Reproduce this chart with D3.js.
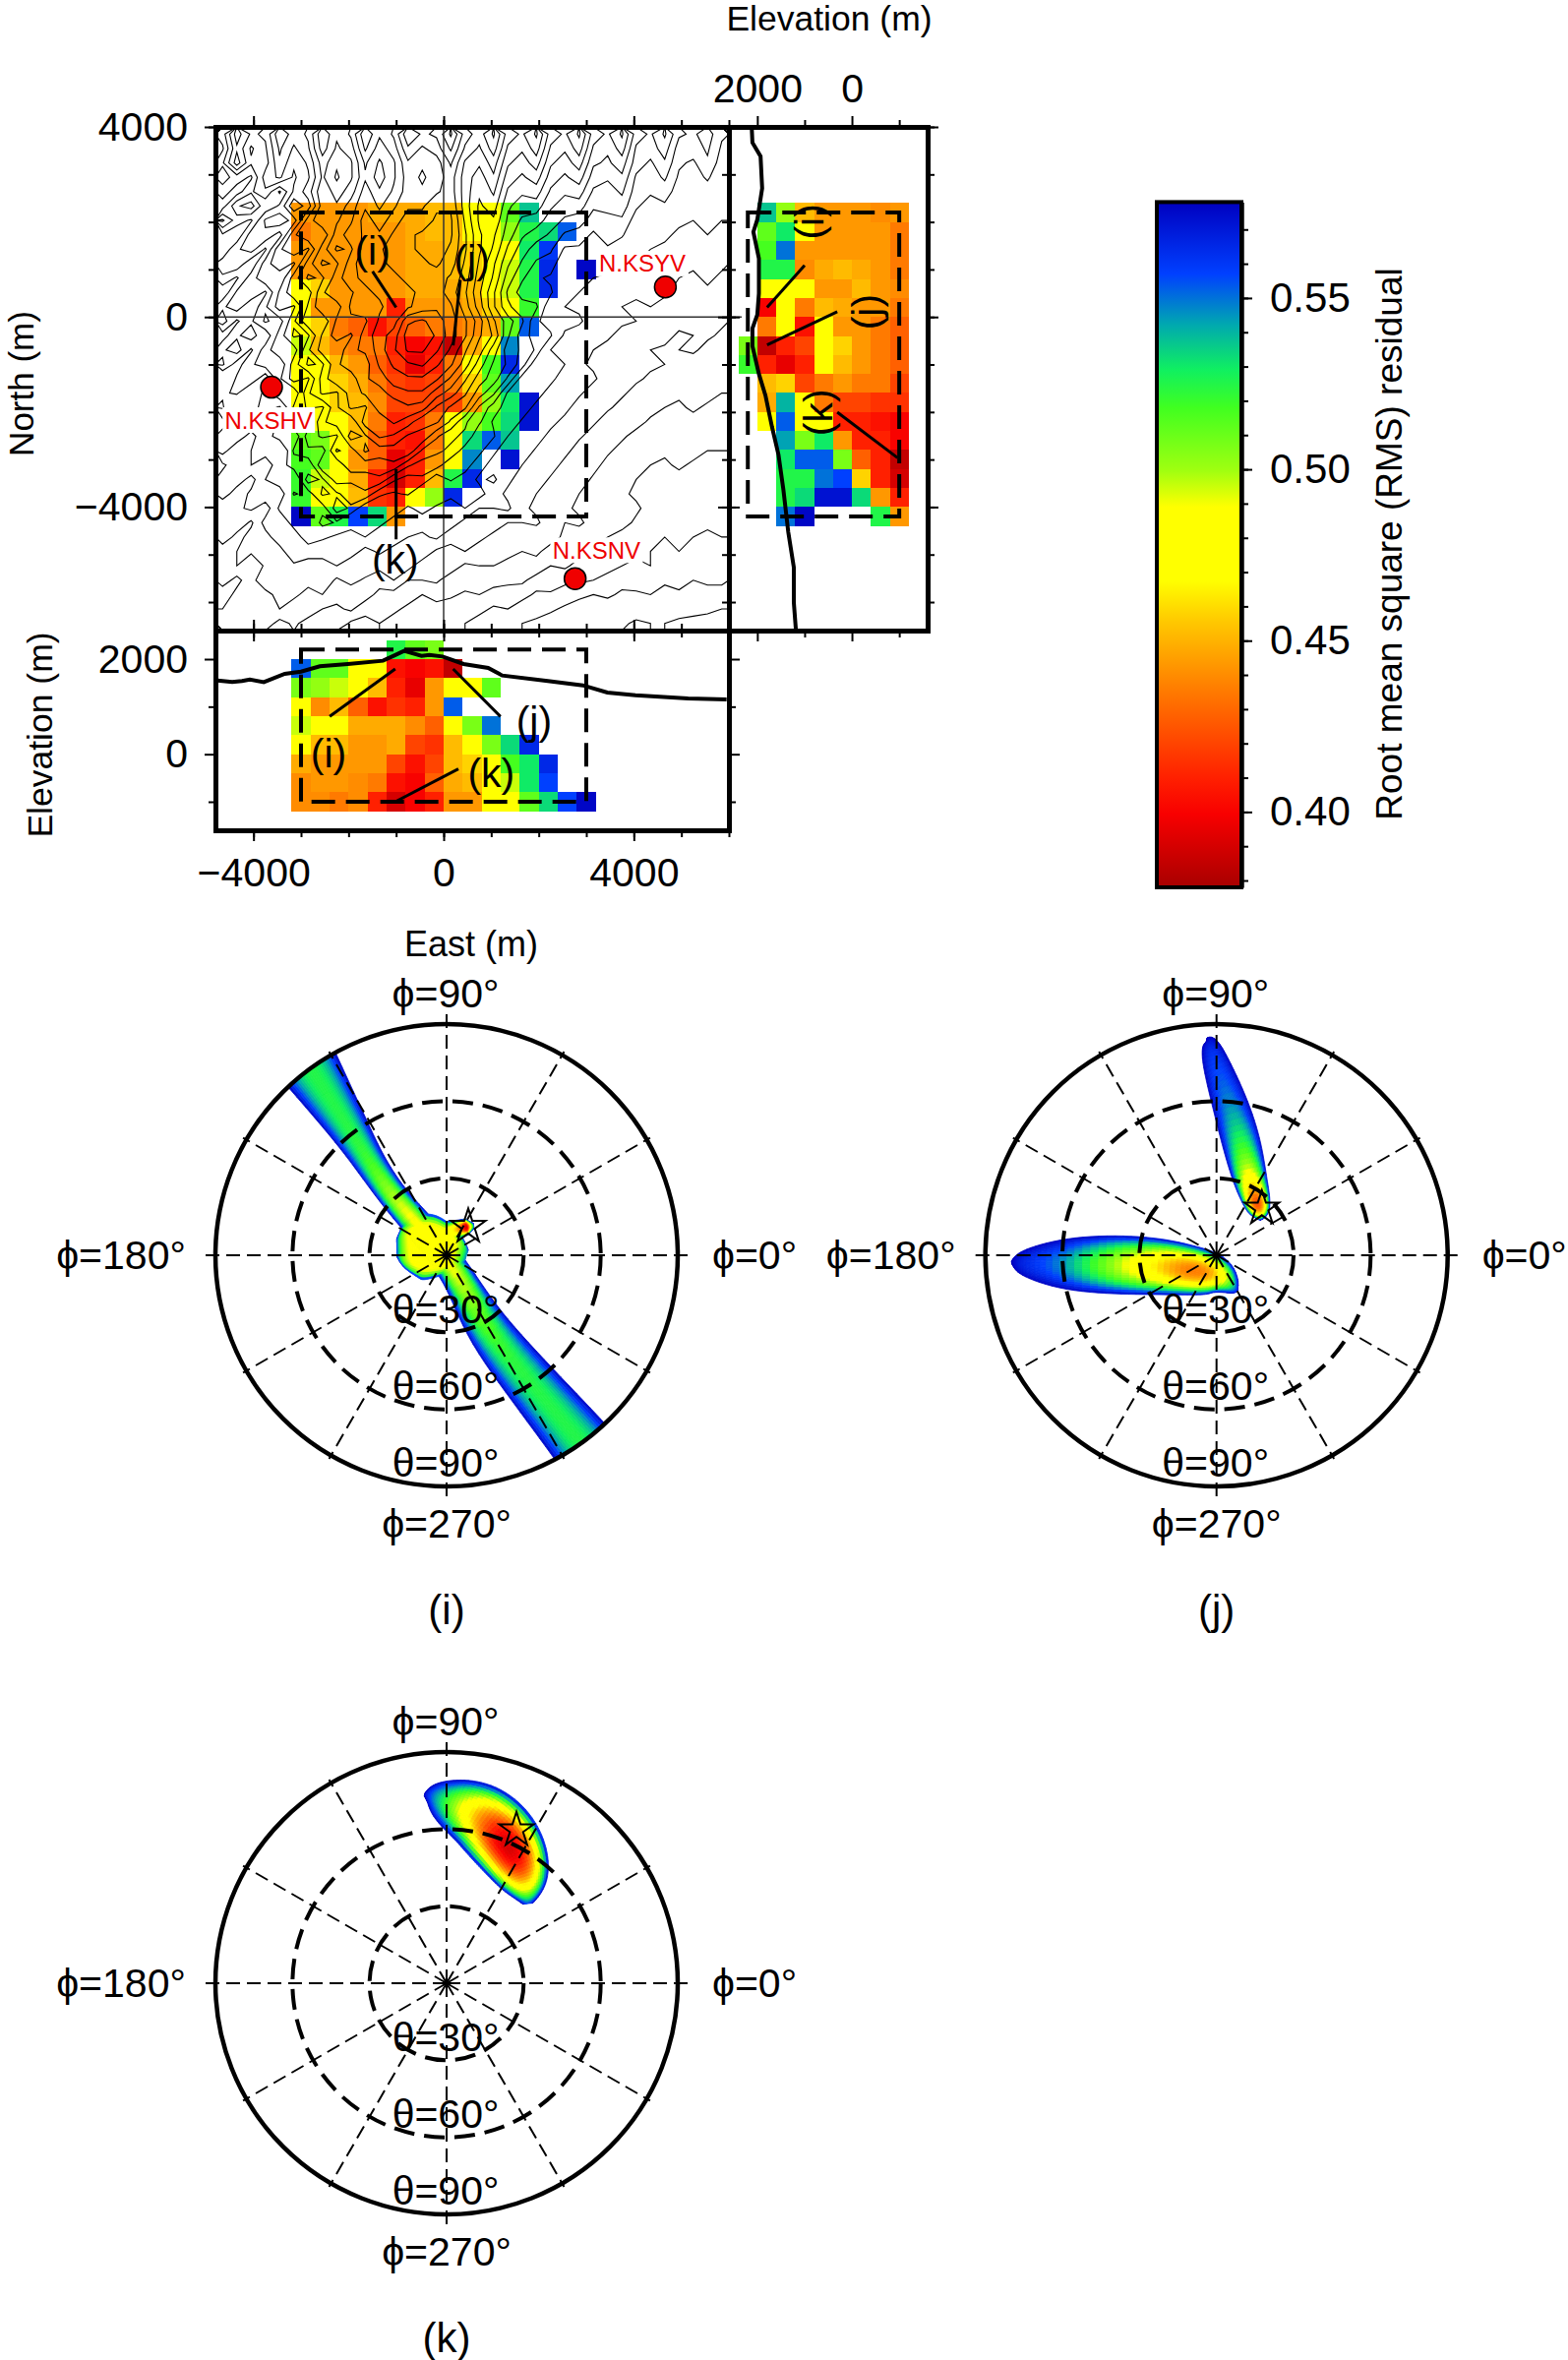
<!DOCTYPE html>
<html>
<head>
<meta charset="utf-8">
<style>
  body { margin: 0; background: #fff; }
  text { font-family: "Liberation Sans", Arial, sans-serif; fill: #000; }
</style>
<script src="https://cdn.jsdelivr.net/npm/d3@7"></script>
</head>
<body>
<div id="chart"></div>
<script>
// residual colour table
const rmsStops = [0.378, 0.3994, 0.41, 0.4368, 0.4555, 0.4675, 0.489, 0.4996, 0.518, 0.529, 0.5423, 0.557, 0.578];
const rmsColors = ["#a80000", "#f80000", "#ff2000", "#ff8000", "#ffc800", "#ffff00", "#ffff00", "#a0ff10", "#40ff20", "#10f060", "#00a8b0", "#0040ff", "#0000c0"];
const rmsTicks = [0.40, 0.45, 0.50, 0.55];

const _ = null;
// map view: rows run north 2400 -> -4400, columns east -3200 -> 3200, 400 m cells
const mapCells = [
  [.443,.443,.443,.443,.448,.448,.448,.452,.452,.472,.48,.512,.537,_,_,_],
  [.435,.443,.443,.443,.443,.443,.448,.452,.452,.472,.48,.502,.525,.533,.553,_],
  [.443,.443,.443,.443,.443,.443,.448,.448,.452,.458,.472,.487,.53,.56,_,_],
  [.443,.443,.443,.443,.443,.443,.448,.448,.452,.458,.48,.495,.525,.565,_,.576],
  [.472,.458,.443,.443,.443,.443,.448,.448,.448,.452,.472,.495,.525,.565,_,_],
  [.472,.443,.443,.443,.443,.41,.443,.443,.443,.448,.458,.48,.52,_,_,_],
  [.48,.458,.435,.428,.405,.42,.428,.435,.435,.44,.448,.512,.553,_,_,_],
  [.495,.452,.44,.435,.435,.41,.40,.405,.385,.448,.487,.547,_,_,_,_],
  [.48,.472,.452,.443,.428,.415,.395,.41,.435,.48,.517,.565,_,_,_,_],
  [.472,.472,.458,.448,.435,.42,.415,.42,.435,.458,.512,.543,_,_,_,_],
  [.472,.472,.458,.452,.44,.42,.42,.42,.42,.443,.502,.53,.572,_,_,_],
  [.472,.48,.472,.452,.435,.41,.415,.435,.472,.502,.517,.533,.572,_,_,_],
  [.512,.507,.472,.452,.428,.41,.405,.435,.472,.533,.553,.537,_,_,_,_],
  [.517,.512,.48,.443,.428,.395,.41,.443,.487,.547,_,.572,_,_,_,_],
  [.52,.495,.472,.448,.41,.39,.41,.452,.525,.565,_,_,_,_,_,_],
  [.52,.487,.48,.452,.415,.41,.472,.502,.565,_,_,_,_,_,_,_],
  [.576,.512,.525,.557,.533,.443,_,_,_,_,_,_,_,_,_,_]
];
// east-west section: rows run elevation 2400 -> -1200
const sectionCells = [
  [_,_,_,_,_,.525,.512,.507,_,_,_,_,_,_,_,_],
  [.553,.512,.512,.48,.472,.405,.40,.405,.385,_,_,_,_,_,_,_],
  [.507,.502,.495,.48,.452,.41,.395,.443,.472,.472,.512,_,_,_,_,_],
  [.48,.44,.452,.428,.405,.415,.41,.443,.553,_,_,_,_,_,_,_],
  [.495,.48,.48,.448,.448,.448,.44,.428,.472,.507,.55,_,_,_,_,_],
  [.472,.452,.452,.443,.443,.448,.42,.415,.452,.48,.507,.533,.565,_,_,_],
  [.448,.443,.443,.443,.443,.42,.405,.42,.452,.458,.48,.517,.53,.565,_,_],
  [.44,.443,.443,.44,.435,.405,.40,.428,.448,.452,.472,.495,.53,.557,_,_],
  [.44,.44,.435,.44,.41,.39,.40,.41,.443,.443,.472,.48,.512,.533,.557,.576]
];
// north-south section: columns run elevation 2400 -> -1200
const profileCells = [
  [_,.537,.502,.452,.443,.443,.443,.44,.443],
  [_,.512,.53,.472,.443,.443,.443,.443,.435],
  [_,.517,.55,.443,.443,.443,.443,.443,.435],
  [_,.525,.525,.44,.448,.452,.448,.443,.435],
  [_,.487,.472,.472,.443,.443,.452,.443,.44],
  [_,.40,.487,.435,.452,.448,.443,.443,.435],
  [_,.435,.472,.405,.472,.443,.443,.435,.428],
  [.507,.385,.41,.42,.487,.458,.443,.435,.428],
  [.52,.41,.395,.41,.472,.452,.443,.435,.428],
  [_,.452,.458,.42,.435,.443,.435,.435,.42],
  [_,.448,.54,.472,.435,.42,.42,.415,.415],
  [_,.472,.553,.48,.472,.41,.41,.405,.40],
  [_,_,.543,.507,.53,.443,.41,.41,.40],
  [_,_,.53,.553,.553,.507,.428,.41,.385],
  [_,_,.525,.525,.55,.557,.458,.41,.39],
  [_,_,.525,.533,.572,.572,.533,.443,.41],
  [_,_,.55,.576,_,_,_,.525,.443]
];
const cellSize = 400;

// topography estimated by eye, tens of metres, 36 columns by 35 rows over the whole map
const topoRows = [
  [150,168,158,160,176,168,172,188,178,184,200,190,196,212,206,208,220,204,198,208,192,188,196,180,176,184,168,164,172,156,152,160,148,146,150,142],
  [146,164,152,158,172,164,170,186,176,180,196,186,192,206,200,204,214,200,194,204,188,184,192,176,172,180,164,160,168,152,150,156,144,144,148,140],
  [152,168,154,156,170,160,166,180,172,176,190,182,188,200,196,198,208,194,190,198,184,180,186,172,168,174,160,158,162,150,146,152,142,140,146,138],
  [156,150,146,162,166,158,164,178,170,176,188,180,188,198,194,198,204,192,186,194,180,176,180,168,164,168,156,154,158,146,144,148,140,138,142,136],
  [150,144,152,158,146,160,168,182,174,180,192,184,190,198,196,200,204,192,184,190,176,172,174,164,160,162,152,150,154,144,142,144,138,136,138,134],
  [144,158,162,148,154,170,162,180,178,186,194,188,194,200,200,206,206,192,182,186,172,168,168,160,156,156,148,148,150,142,138,140,136,132,136,132],
  [160,150,146,160,164,156,174,182,182,188,198,192,198,204,204,208,208,194,182,182,170,164,162,156,152,150,144,146,146,138,136,136,132,130,134,130],
  [146,142,156,158,150,170,176,172,186,192,196,196,202,206,208,210,208,196,184,178,168,160,156,152,146,144,140,144,142,134,134,132,128,128,130,128],
  [142,152,156,146,164,170,164,180,190,188,198,200,204,206,208,210,206,196,184,176,164,156,150,148,140,140,136,140,136,132,130,128,126,126,126,126],
  [150,152,142,156,164,158,174,184,182,192,200,200,202,204,206,208,204,194,182,172,160,152,146,144,136,138,138,134,130,130,126,126,124,122,124,122],
  [146,140,150,158,154,168,178,176,186,194,196,198,200,202,204,204,200,192,180,170,156,148,142,140,140,136,130,128,128,128,122,124,120,118,122,118],
  [136,148,152,146,160,170,168,182,188,188,194,196,198,200,202,204,198,190,178,166,152,144,144,142,134,130,124,128,130,122,120,122,116,116,118,116],
  [146,150,142,152,162,158,172,182,180,190,192,194,198,200,204,206,202,192,180,166,154,150,148,136,130,128,130,126,120,118,120,116,112,116,114,114],
  [150,140,146,154,150,164,176,172,184,188,188,196,198,212,214,210,204,196,186,172,162,154,142,138,134,132,124,120,122,120,114,112,114,112,110,112],
  [138,146,150,142,156,166,164,178,186,182,192,198,204,216,218,212,204,196,184,176,160,150,144,142,128,124,126,122,116,114,116,114,108,110,112,108],
  [146,150,140,150,158,156,170,180,178,188,190,198,206,214,214,208,200,190,180,168,156,152,146,130,126,128,120,116,118,116,110,108,110,112,106,106],
  [148,138,146,150,148,162,172,170,182,186,186,196,202,206,208,202,196,186,174,164,158,150,136,132,130,122,118,120,114,110,112,110,106,104,108,104],
  [132,142,146,136,152,162,158,174,182,180,188,192,198,200,200,196,188,178,168,162,152,138,134,134,122,120,122,114,110,112,108,104,106,108,102,102],
  [140,142,132,144,152,148,164,172,170,180,184,186,192,194,194,186,180,172,162,154,140,136,136,124,120,122,114,110,112,106,104,106,102,100,104,100],
  [142,130,138,144,140,154,160,158,170,178,176,186,184,188,186,176,170,166,152,144,138,138,126,120,124,114,110,112,106,102,104,100,98,102,98,98],
  [126,134,138,130,144,152,150,164,168,166,180,178,184,180,172,172,164,154,148,140,140,128,120,124,116,110,112,104,100,104,98,96,100,96,96,96],
  [134,136,126,138,144,142,156,160,158,174,170,178,176,170,170,160,154,152,142,142,130,122,126,116,110,112,104,100,102,96,94,98,94,94,96,92],
  [134,122,130,136,132,148,152,150,166,162,172,168,168,170,158,154,152,144,144,132,124,128,118,112,114,104,100,102,96,94,96,92,92,94,90,90],
  [118,126,130,122,138,144,142,158,154,164,162,162,164,154,150,150,142,146,134,126,130,120,114,116,106,102,104,96,92,94,90,88,92,88,88,88],
  [124,126,116,130,136,134,150,146,156,154,156,158,148,144,146,136,142,136,128,132,122,116,118,108,104,106,98,94,96,90,88,90,86,86,88,84],
  [126,114,122,128,124,142,138,148,146,150,152,142,140,142,132,138,132,130,134,124,118,120,110,106,108,100,96,98,92,88,90,86,84,86,82,84],
  [110,118,122,114,132,130,140,138,150,146,136,136,138,128,134,128,126,130,120,120,122,112,108,110,102,98,100,94,90,92,86,84,86,82,82,80],
  [116,118,108,124,122,134,130,144,140,132,132,134,124,130,124,122,126,116,116,118,110,110,112,104,100,102,96,92,94,88,84,86,82,80,82,80],
  [118,106,114,116,126,124,136,132,128,128,130,120,126,120,118,122,112,112,114,106,108,108,102,104,98,94,96,90,86,88,84,80,82,80,78,80],
  [102,110,112,118,116,128,124,122,124,126,116,122,116,114,118,108,108,110,102,104,104,100,102,96,92,94,88,84,86,82,80,78,80,76,78,76],
  [108,110,100,112,118,118,116,118,120,112,118,112,110,114,104,104,106,98,100,100,96,98,96,90,92,86,84,84,80,78,80,76,76,78,74,76],
  [106,96,108,114,112,114,116,118,108,114,108,106,110,100,100,102,94,96,96,92,94,92,86,88,82,82,80,76,74,76,72,72,74,70,72,72],
  [92,104,110,108,112,114,104,110,104,102,106,96,96,98,90,92,92,88,90,88,82,84,78,78,76,72,70,72,68,68,70,66,68,68,66,66],
  [100,106,104,108,110,100,106,100,98,102,92,92,94,86,88,88,84,86,84,78,80,74,74,72,68,66,68,64,64,66,62,64,64,62,62,60],
  [102,100,104,106,96,102,96,94,98,88,88,90,82,84,84,80,82,80,74,76,70,70,68,64,62,64,60,60,62,58,60,60,58,58,56,56]
];
const topoLevels = d3.range(60, 140, 10).concat(d3.range(141, 224, 6));

// surface profiles
const sectionEast = [-4757,-4447,-4240,-4078,-3783,-3341,-3001,-2603,-2013,-1276,-1050,-833,-465,-300,-22,420,937,1232,2190,2928,3444,4034,5140,5951];
const sectionElev = [1552,1517,1540,1572,1517,1690,1738,1848,1897,1966,2070,2172,2069,2090,2055,1897,1814,1655,1538,1448,1297,1241,1172,1152];
const profileNorth = [3970,3670,3380,2710,2050,1790,1230,500,50,-240,-610,-1200,-1650,-2310,-2900,-3640,-4530,-5270,-6010,-6560];
const profileElev = [2117,2103,1931,1897,2000,2083,1966,1966,2000,2103,2103,1966,1828,1690,1552,1448,1345,1228,1228,1186];

// stations: label, east, north
const stationNames = ["N.KSYV", "N.KSHV", "N.KSNV"];
const stationEast = [4663, -3620, 2765];
const stationNorth = [630, -1478, -5506];

// leaders to the three picked cells [from, to]
const mapLeaders = [[[-1496, 960], [-1000, 200]], [[350, 780], [200, -600]], [[-1000, -3200], [-1000, -4680]]];
const sectionLeaders = [[[-2397, 793], [-1018, 1793]], [[1195, 793], [199, 1793]], [[310, -310], [-1018, -1000]]];
const profileLeaders = [[[1000, 1086], [1793, 200]], [[310, 110], [1793, -590]], [[310, -2003], [-965, -2964]]];

// residual lobes on the polar plots, per strand: phi, theta, half width (deg), minimum rms
const lobeI1 = { phi: [125.9,127.6,130.1,133,132.4,301.5,297.6,303.2,305.6,305.7], theta: [94.2,60.6,44.8,28.1,11.7,9.3,30.5,58.3,88.3,94.7],
  width: [12.1,7.3,5.7,5.4,6,5.7,8.3,10,11.9,12.4], rms: [.525,.525,.52,.495,.48,.49,.52,.525,.525,.525], sharp: 2 };
const lobeI2 = { phi: [171.4,170,161,151,16,358], theta: [19.6,17.1,11.1,6.1,3.7,7.7],
  width: [3.5,9,13,13,8,2.5], rms: [.56,.49,.478,.478,.478,.55], sharp: 6 };
const lobeI3 = { phi: [110.8,70.3,55.1,55.1,47.3], theta: [7.9,10.6,13.4,13.4,15.6],
  width: [5.8,3.6,3.2,3.2,1], rms: [.478,.478,.385,.385,.56], sharp: 2 };
const lobeJ1 = { phi: [92.4,91.6,91.3,85.1,77,65.9,49.1,42,39.8], theta: [84.6,83.5,78.9,60,44.3,31.9,25,22.6,21.6],
  width: [.4,2.6,4.8,7,7.6,6.6,5.2,3,.5], rms: [.575,.57,.56,.55,.525,.485,.39,.5,.57], sharp: 2 };
const lobeJ2 = { phi: [182,182,182.3,183.3,185.2,191.3,213.9,279.8,297.9,300], theta: [79.8,78.8,75.4,60.1,39.8,22.1,10.8,7.5,15,16],
  width: [.4,2.4,5.4,10.2,11.6,11,9.6,8,2.6,.4], rms: [.577,.575,.565,.55,.5,.46,.425,.455,.55,.57], sharp: 2 };
const lobeK1 = { phi: [96.7,94.4,88.1,78,67.9,58.1,49.8,44.4], theta: [73.7,73.4,70,66.3,60.4,53.9,48.1,44.3],
  width: [.5,5.5,10.5,14,14.5,12.5,8.5,2], rms: [.575,.55,.51,.44,.38,.40,.48,.56], sharp: 2 };

const stars = [[53, 14], [46, 25.4], [65.5, 65.6]]; // phi, theta of the best fit
const phiLabels = ["\u03d5=0\u00b0", "\u03d5=90\u00b0", "\u03d5=180\u00b0", "\u03d5=270\u00b0"];
const thetaRings = [30, 60, 90];

const width = 1594, height = 2399;
const svg = d3.select("#chart").append("svg").attr("width", width).attr("height", height);
const defs = svg.append("defs");

const rmsColor = d3.scaleLinear().domain(rmsStops).range(rmsColors).clamp(true);

const east = d3.scaleLinear().domain([-4800, 6000]).range([219, 741]);
const north = d3.scaleLinear().domain([4000, -6600]).range([129, 641]);
const sectionY = d3.scaleLinear().domain([2600, -1600]).range([641, 844]);
const profileX = d3.scaleLinear().domain([2600, -1600]).range([741, 943]);

function addClip(id, shape) {
  const c = defs.append("clipPath").attr("id", id);
  shape(c);
}
addClip("clipMap", c => c.append("rect").attr("x", 219).attr("y", 129).attr("width", 522).attr("height", 512));

// heat cells
function drawCells(rows, xOf, yOf) {
  const g = svg.append("g").attr("shape-rendering", "crispEdges");
  rows.forEach((row, r) => row.forEach((v, c) => {
    if (v === null) return;
    const x0 = xOf(c), x1 = xOf(c + 1), y0 = yOf(r), y1 = yOf(r + 1);
    g.append("rect")
      .attr("x", Math.min(x0, x1)).attr("y", Math.min(y0, y1))
      .attr("width", Math.abs(x1 - x0)).attr("height", Math.abs(y1 - y0))
      .attr("fill", rmsColor(v));
  }));
}
drawCells(mapCells, c => east(-3200 + c * cellSize), r => north(2400 - r * cellSize));
drawCells(sectionCells, c => east(-3200 + c * cellSize), r => sectionY(2400 - r * cellSize));
drawCells(profileCells, c => profileX(2400 - c * cellSize), r => north(2400 - r * cellSize));

// topo contours
const nCols = 36, nRows = topoRows.length;
const topoValues = [];
topoRows.forEach(row => d3.range(nCols).forEach(c => topoValues.push(row[c] ?? row[row.length - 1])));
const gridX = d3.scaleLinear().domain([0, nCols]).range(east.range());
const gridY = d3.scaleLinear().domain([0, nRows]).range(north.range());
const topoPath = d3.geoPath(d3.geoTransform({
  point(x, y) { this.stream.point(gridX(x), gridY(y)); }
}));
svg.append("g").attr("clip-path", "url(#clipMap)")
  .selectAll("path")
  .data(d3.contours().size([nCols, nRows]).thresholds(topoLevels)(topoValues))
  .join("path")
  .attr("d", topoPath)
  .attr("fill", "none")
  .attr("stroke", "#000")
  .attr("stroke-width", 1.1);

// cross hair through the origin
svg.append("line").attr("x1", east(0)).attr("x2", east(0)).attr("y1", 122).attr("y2", 641).attr("stroke", "#333").attr("stroke-width", 1.5);
svg.append("line").attr("x1", 219).attr("x2", 754).attr("y1", north(0)).attr("y2", north(0)).attr("stroke", "#333").attr("stroke-width", 1.5);

// dashed search box in each view
function box(x0, x1, y0, y1) {
  svg.append("rect").attr("x", x0).attr("y", y0).attr("width", x1 - x0).attr("height", y1 - y0)
    .attr("fill", "none").attr("stroke", "#000").attr("stroke-width", 4).attr("stroke-dasharray", "24 11");
}
box(east(-3000), east(3000), north(2200), north(-4200));
box(east(-3000), east(3000), sectionY(2200), sectionY(-1000));
box(profileX(2200), profileX(-1000), north(2200), north(-4200));

// surface profiles
svg.append("path")
  .attr("d", d3.line().x(d => east(d[0])).y(d => sectionY(d[1]))(d3.zip(sectionEast, sectionElev)))
  .attr("fill", "none").attr("stroke", "#000").attr("stroke-width", 4);
svg.append("path")
  .attr("d", d3.line().x(d => profileX(d[1])).y(d => north(d[0]))(d3.zip(profileNorth, profileElev)))
  .attr("fill", "none").attr("stroke", "#000").attr("stroke-width", 4);

// leaders
function leaders(list, xs, ys) {
  svg.append("g").selectAll("line").data(list).join("line")
    .attr("x1", d => xs(d[0][0])).attr("y1", d => ys(d[0][1]))
    .attr("x2", d => xs(d[1][0])).attr("y2", d => ys(d[1][1]))
    .attr("stroke", "#000").attr("stroke-width", 3);
}
leaders(mapLeaders, east, north);
leaders(sectionLeaders, east, sectionY);
leaders(profileLeaders, profileX, north);

function label(txt, x, y, size, rotate) {
  const t = svg.append("text").text(txt)
    .attr("text-anchor", "middle").attr("dominant-baseline", "central")
    .attr("font-size", size);
  if (rotate) t.attr("transform", `translate(${x},${y}) rotate(${rotate})`);
  else t.attr("x", x).attr("y", y);
  return t;
}

[["(i)", 378.6, 254.6], ["(j)", 479.6, 263.6], ["(k)", 401.8, 569],
 ["(i)", 334, 766], ["(j)", 542.9, 733.3], ["(k)", 499.3, 786]].forEach(d => label(d[0], d[1], d[2], 41));
[["(i)", 822.7, 225.4], ["(j)", 880.7, 317.1], ["(k)", 831.7, 419.3]].forEach(d => label(d[0], d[1], d[2], 41, -90));

// stations
const stationLabelX = [652.9, 273.2, 606.4], stationLabelY = [267.9, 427, 559.3];
stationNames.forEach((name, i) => {
  svg.append("rect").attr("x", stationLabelX[i] - 47).attr("y", stationLabelY[i] - 13).attr("width", 94).attr("height", 26).attr("fill", "#fff");
  svg.append("circle").attr("cx", east(stationEast[i])).attr("cy", north(stationNorth[i])).attr("r", 11)
    .attr("fill", "#f00000").attr("stroke", "#000").attr("stroke-width", 1.5);
  label(name, stationLabelX[i], stationLabelY[i], 24).style("fill", "#ee0000");
});

// axes: one pass for the minor ticks, one for the long labelled ones
function axis(kind, scale, x, y, minor, major, labels, pad = 17) {
  const make = { left: d3.axisLeft, right: d3.axisRight, top: d3.axisTop, bottom: d3.axisBottom }[kind];
  const a = svg.append("g").attr("transform", `translate(${x},${y})`);
  a.append("g").call(make(scale).tickValues(minor).tickSize(7).tickSizeOuter(0).tickFormat(""));
  const m = a.append("g").call(make(scale).tickValues(major).tickSize(11).tickSizeOuter(0).tickPadding(pad)
    .tickFormat(labels ? d3.format("d") : ""));
  a.selectAll(".tick line").attr("stroke", "#000").attr("stroke-width", 2);
  a.selectAll(".domain").attr("stroke", "#000").attr("stroke-width", 5).attr("stroke-linecap", "square");
  m.selectAll("text").attr("font-size", 41).attr("font-family", "Liberation Sans, Arial, sans-serif").attr("fill", "#000");
  return a;
}
const eastMinor = d3.range(-4000, 6001, 1000), eastMajor = [-4000, 0, 4000];
const northMinor = d3.range(-6000, 4001, 1000), northMajor = [-4000, 0, 4000];
const elevMinor = [-1000, 1000], elevMajor = [0, 2000];

axis("left", north, 219, 0, northMinor, northMajor, true);
axis("right", north, 741, 0, northMinor, northMajor, false);
axis("top", east, 0, 129, eastMinor, eastMajor, false);
axis("bottom", east, 0, 641, eastMinor, eastMajor, false);
axis("left", sectionY, 219, 0, elevMinor, elevMajor, true);
axis("right", sectionY, 741, 0, elevMinor, elevMajor, false);
axis("top", east, 0, 641, eastMinor, eastMajor, false);
axis("bottom", east, 0, 844, eastMinor, eastMajor, true);
axis("top", profileX, 0, 129, elevMinor, elevMajor, true, 14);
axis("bottom", profileX, 0, 641, elevMinor, elevMajor, false);
axis("right", north, 943, 0, northMinor, northMajor, false);
axis("left", north, 741, 0, northMinor, northMajor, false);

label("North (m)", 21, 390, 35, -90);
label("Elevation (m)", 41, 747, 35.5, -90);
label("East (m)", 479, 959, 36);
label("Elevation (m)", 843, 19, 35.5);

// colour bar
const barY = d3.scaleLinear().domain([0.378, 0.578]).range([902, 205.4]);
const grad = defs.append("linearGradient").attr("id", "rmsBar").attr("x1", 0).attr("x2", 0).attr("y1", 1).attr("y2", 0);
rmsStops.forEach((s, i) => grad.append("stop")
  .attr("offset", (s - 0.378) / 0.2).attr("stop-color", rmsColors[i]));
svg.append("rect").attr("x", 1176).attr("y", barY(0.578)).attr("width", 86).attr("height", barY(0.378) - barY(0.578))
  .attr("fill", "url(#rmsBar)").attr("stroke", "#000").attr("stroke-width", 4);
const barAxis = svg.append("g").attr("transform", "translate(1262,0)");
barAxis.append("g").call(d3.axisRight(barY).tickValues(d3.range(0.38, 0.5785, 0.01)).tickSize(7).tickSizeOuter(0).tickFormat(""));
const barMajor = barAxis.append("g").call(d3.axisRight(barY).tickValues(rmsTicks).tickSize(11).tickSizeOuter(0).tickPadding(18).tickFormat(d3.format(".2f")));
barAxis.selectAll(".tick line").attr("stroke", "#000").attr("stroke-width", 2);
barAxis.selectAll(".domain").attr("stroke", "#000").attr("stroke-width", 4);
barMajor.selectAll("text").attr("font-size", 42).attr("font-family", "Liberation Sans, Arial, sans-serif").attr("fill", "#000");
label("Root mean square (RMS) residual", 1412, 553, 37, -90);

// polar plots
const radius = d3.scaleLinear().domain([0, 90]).range([0, 235]);

function polarPoint(cx, cy, phi, theta) {
  const a = phi * Math.PI / 180, r = radius(theta);
  return [cx + r * Math.cos(a), cy - r * Math.sin(a)];
}

function lobeQuads(cx, cy, lobe) {
  const pts = lobe.phi.map((p, i) => polarPoint(cx, cy, p, lobe.theta[i]));
  const ix = d3.interpolateBasis(pts.map(p => p[0]));
  const iy = d3.interpolateBasis(pts.map(p => p[1]));
  const iw = d3.interpolateBasis(lobe.width.map(w => radius(w)));
  const iv = d3.interpolateBasis(lobe.rms);
  const along = 56, across = 24, quads = [];
  const vertex = (s, u) => {
    const t = s / along;
    const dx = ix(Math.min(1, t + 0.005)) - ix(Math.max(0, t - 0.005));
    const dy = iy(Math.min(1, t + 0.005)) - iy(Math.max(0, t - 0.005));
    const len = Math.hypot(dx, dy) || 1;
    const w = iw(t) * u;
    return [ix(t) - dy / len * w, iy(t) + dx / len * w];
  };
  for (let s = 0; s < along; s++) {
    for (let k = 0; k < across; k++) {
      const u0 = -1 + 2 * k / across, u1 = -1 + 2 * (k + 1) / across, um = (u0 + u1) / 2;
      const peak = iv((s + 0.5) / along);
      quads.push({
        pts: [vertex(s, u0), vertex(s + 1, u0), vertex(s + 1, u1), vertex(s, u1)],
        v: peak + (0.578 - peak) * Math.pow(Math.abs(um), lobe.sharp)
      });
    }
  }
  return quads;
}

function polarPlot(id, cx, cy, lobes, star, caption) {
  addClip("clip" + id, c => c.append("circle").attr("cx", cx).attr("cy", cy).attr("r", 235));
  // lowest residual painted last so crossing strands keep the better value
  const quads = lobes.flatMap(l => lobeQuads(cx, cy, l)).sort((a, b) => b.v - a.v);
  svg.append("g").attr("clip-path", `url(#clip${id})`).selectAll("path").data(quads).join("path")
    .attr("d", d => "M" + d.pts.join("L") + "Z")
    .attr("fill", d => rmsColor(d.v)).attr("stroke", d => rmsColor(d.v)).attr("stroke-width", 0.8);

  thetaRings.forEach(t => svg.append("circle").attr("cx", cx).attr("cy", cy).attr("r", radius(t))
    .attr("fill", "none").attr("stroke", "#000").attr("stroke-width", t === 90 ? 4.5 : 4)
    .attr("stroke-dasharray", t === 90 ? null : "21 10"));

  d3.range(0, 360, 30).forEach(p => {
    const end = polarPoint(cx, cy, p, p % 90 === 0 ? 94 : 91.5);
    svg.append("line").attr("x1", cx).attr("y1", cy).attr("x2", end[0]).attr("y2", end[1])
      .attr("stroke", "#000").attr("stroke-width", 2).attr("stroke-dasharray", "14 7");
  });

  const sp = polarPoint(cx, cy, star[0], star[1]);
  svg.append("path").attr("d", d3.symbol(d3.symbolStar).size(380)())
    .attr("transform", `translate(${sp[0]},${sp[1]})`)
    .attr("fill", "none").attr("stroke", "#000").attr("stroke-width", 2);

  label(phiLabels[1], cx - 1, cy - 266, 41);
  label(phiLabels[2], cx - 331, cy, 41);
  label(phiLabels[0], cx + 313, cy, 41);
  label(phiLabels[3], cx, cy + 273, 41);
  thetaRings.forEach((t, i) => label(`\u03b8=${t}\u00b0`, cx - 1, cy + [55, 133, 211][i], 41));
  label(caption, cx, cy + 360, 42);
}

polarPlot("I", 454, 1276, [lobeI1, lobeI2, lobeI3], stars[0], "(i)");
polarPlot("J", 1236.7, 1276, [lobeJ1, lobeJ2], stars[1], "(j)");
polarPlot("K", 454, 2016, [lobeK1], stars[2], "(k)");
</script>
</body>
</html>
